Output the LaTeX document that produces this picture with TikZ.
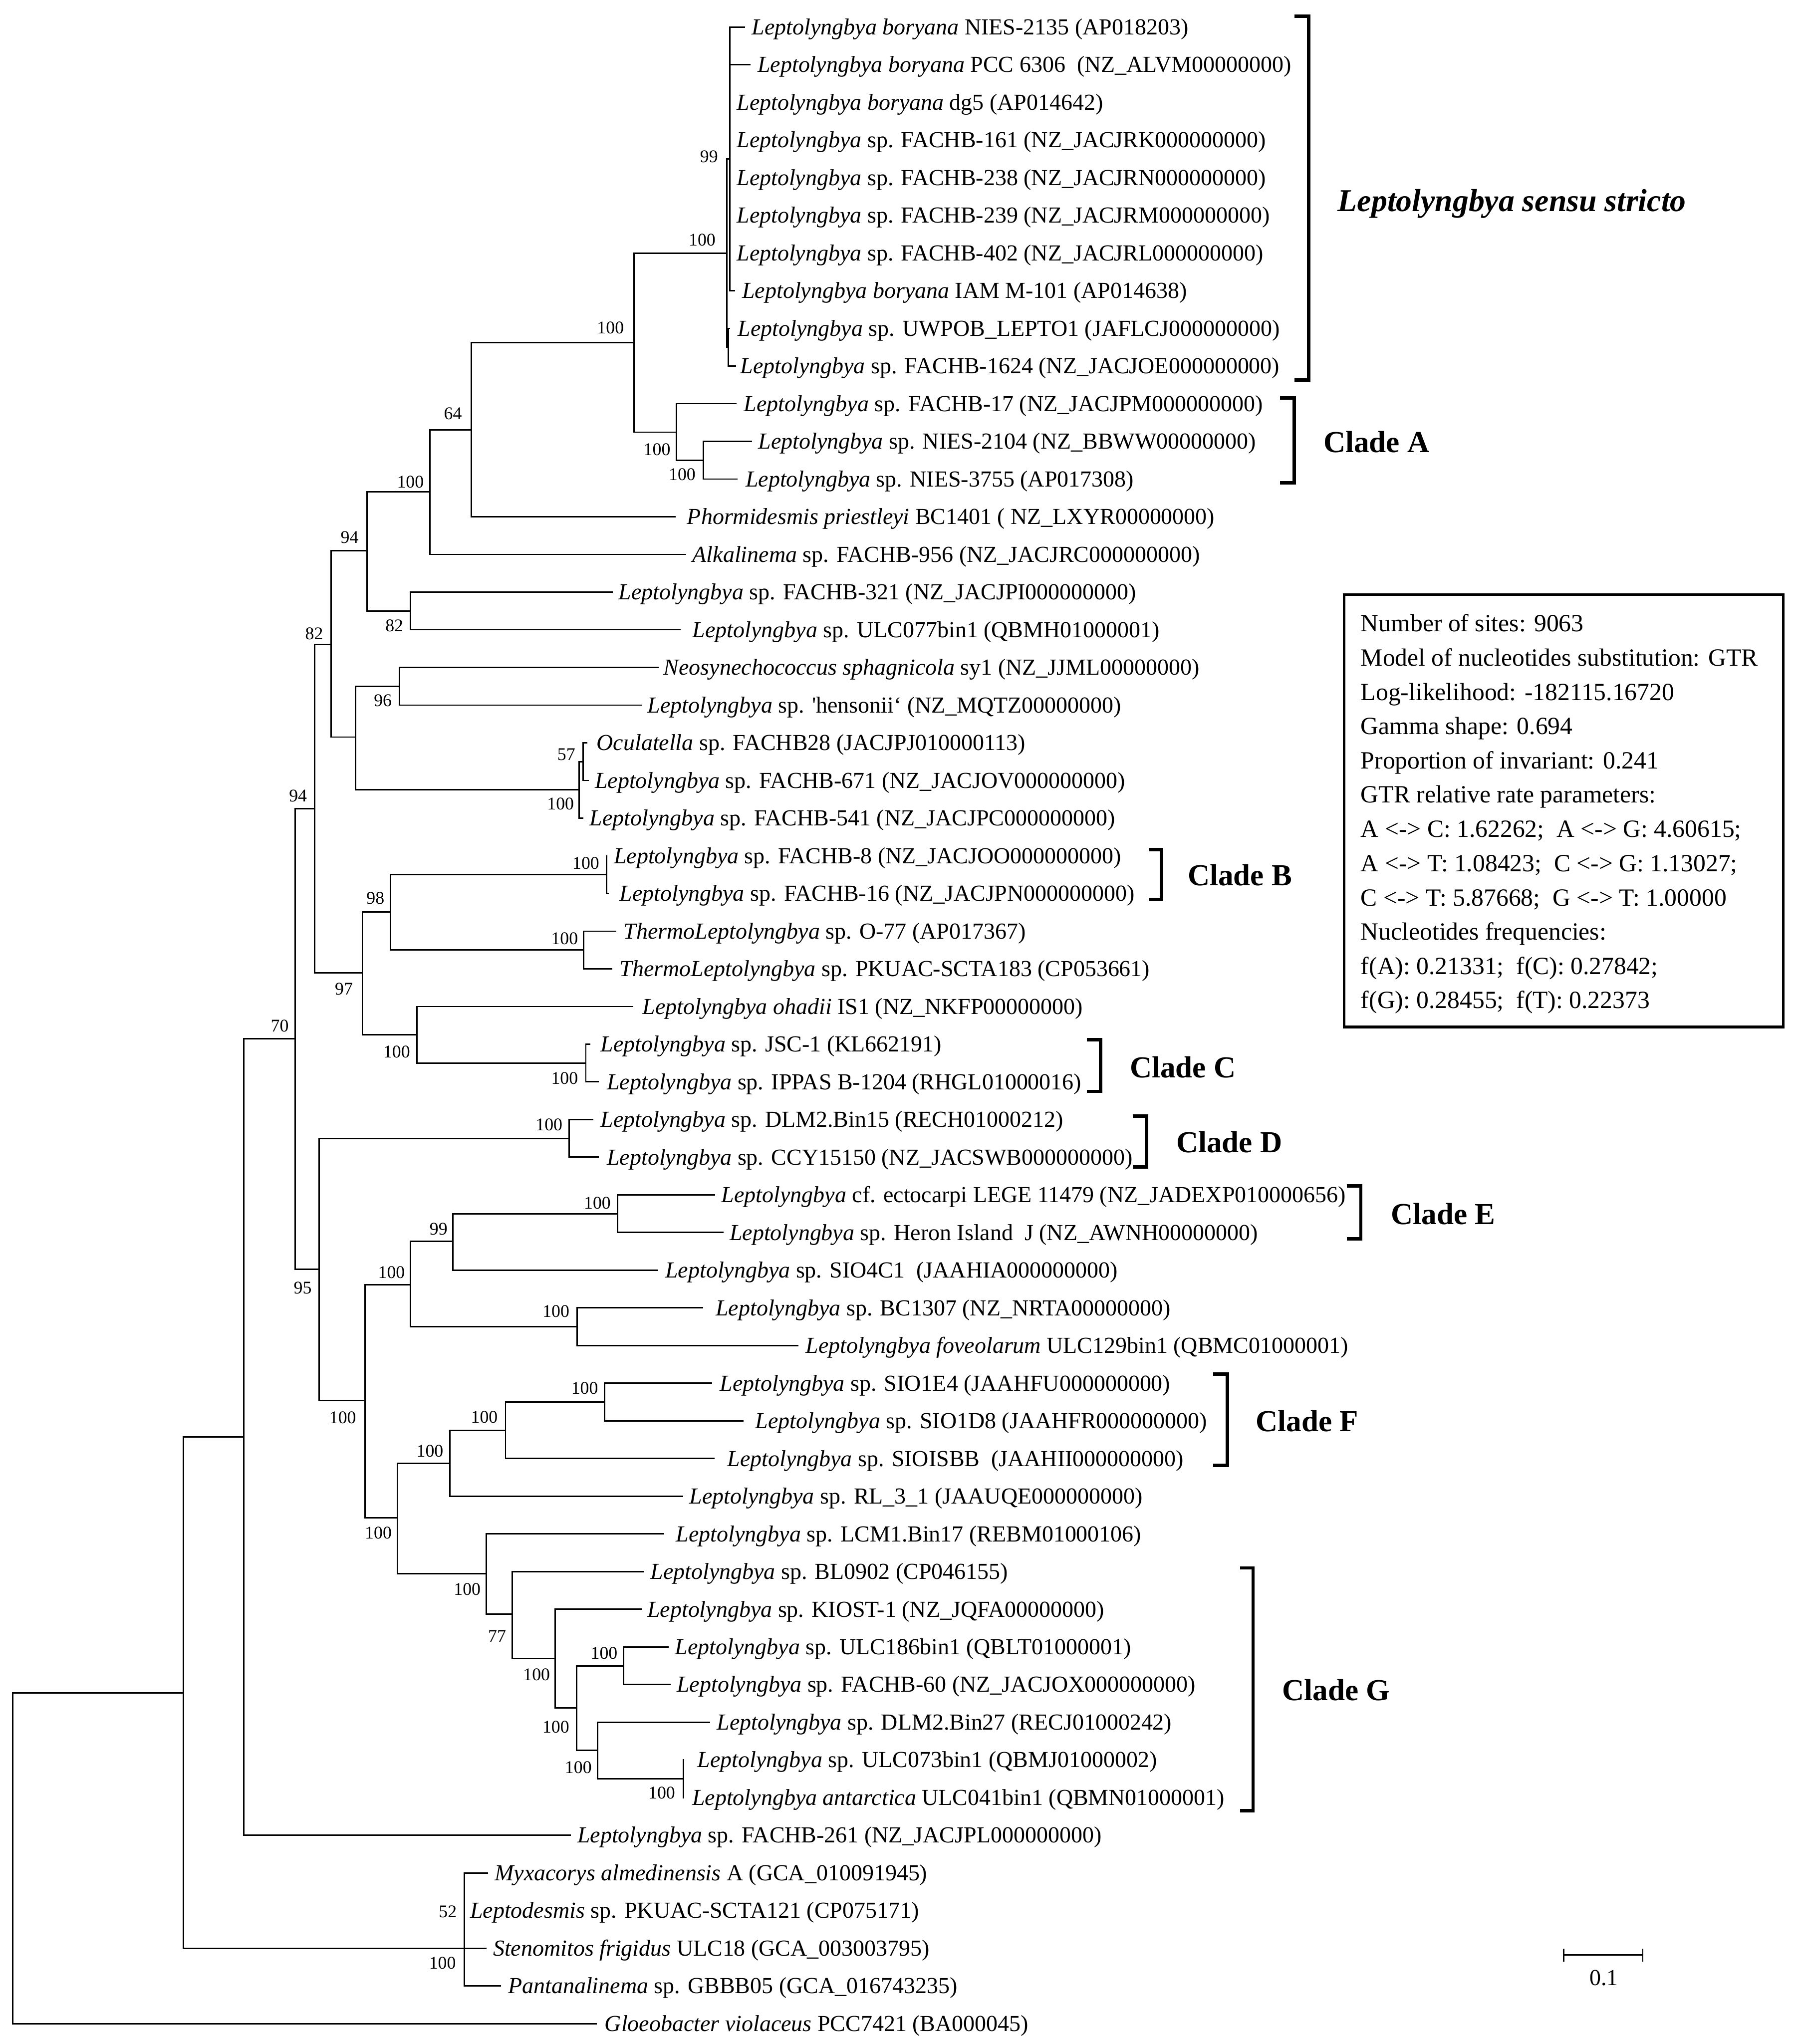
\documentclass[tikz,border=0pt]{standalone}
\usepackage{fontspec}
\setmainfont{Liberation Serif}[Ligatures=TeXOff]
\newcommand\mytip[3]{\coordinate (t#1) at (#2,#3);}
\newcommand\myleaf[4]{\node[leaf] (l#1) at (#2,#3) {#4};}
\newcommand\myboot[4]{\node[boot] (b#1) at (#2,#3) {#4};}
\newcommand\myedges[2]{\foreach \c in {#2} {\draw[br] (#1) |- (\c);}}
\begin{document}
\begin{tikzpicture}[x=0.5pt,y=-0.5pt,
  br/.style={line width=0.55pt},
  leaf/.style={anchor=base west, inner sep=0pt, yshift=-2.9pt, font=\fontsize{8.8}{10.5}\selectfont},
  boot/.style={anchor=center, inner sep=0pt, font=\fontsize{6.85}{8}\selectfont},
  brk/.style={line width=1.3pt},
  cladelab/.style={anchor=west, inner sep=0pt, font=\fontsize{11.7}{14}\selectfont\bfseries},
  boxtxt/.style={anchor=base west, inner sep=0pt, yshift=-3.25pt, font=\fontsize{9.5}{11}\selectfont}]
\useasboundingbox (0,0) rectangle (1379,1568);
\fill[white] (0,0) rectangle (1379,1568);
% ---------- internal nodes ----------
\coordinate (R) at (9.7,1425);
\coordinate (I1) at (140.7,1298.8);
\coordinate (I2) at (186.9,1102.2);
\coordinate (OG) at (356.2,1494.6);
\coordinate (I3) at (226.4,796.9);
\coordinate (I4) at (241.4,620.5);
\coordinate (I5) at (244.9,973.6);
\coordinate (I6) at (254.1,494.4);
\coordinate (I7) at (277.9,746.3);
\coordinate (I8) at (281.4,422.3);
\coordinate (I9) at (272.6,565.4);
\coordinate (I10) at (329.8,377.3);
\coordinate (I11) at (314.8,468.65);
\coordinate (I12) at (361.4,329.8);
\coordinate (I13) at (486.3,262.7);
\coordinate (S) at (557.4,194.2);
\coordinate (Y) at (559.8,121.8);
\coordinate (Z) at (558.6,266.3);
\coordinate (CA) at (518.8,331.5);
\coordinate (CA2) at (539.5,353.05);
\coordinate (I14) at (306.5,526.45);
\coordinate (I15) at (444.1,605.9);
\coordinate (I16) at (447.2,584.25);
\coordinate (I17) at (299.4,699.5);
\coordinate (CB) at (465.2,670.95);
\coordinate (TH) at (447.6,728.75);
\coordinate (I18) at (319.7,793.6);
\coordinate (CC) at (449.4,815.45);
\coordinate (CD) at (436.6,873.25);
\coordinate (I19) at (280.1,1074.2);
\coordinate (I20) at (314.8,985.4);
\coordinate (I22) at (347.4,952.3);
\coordinate (CE) at (473.6,931.05);
\coordinate (I23) at (442.8,1017.75);
\coordinate (I21) at (304.7,1164.2);
\coordinate (I24) at (345.2,1122.5);
\coordinate (I26) at (387.8,1097.2);
\coordinate (CF) at (463.9,1075.55);
\coordinate (I25) at (372.9,1207.2);
\coordinate (I27) at (392.8,1238.3);
\coordinate (I28) at (425.9,1272.2);
\coordinate (I29) at (442.5,1310.3);
\coordinate (I30) at (478.4,1277.85);
\coordinate (I31) at (458.4,1342.8);
\coordinate (I32) at (524.1,1364.55);
% ---------- tips ----------
\mytip{1}{571.6}{20.7}
\mytip{2}{575.8}{49.6}
\mytip{3}{559.8}{78.5}
\mytip{4}{559.8}{107.4}
\mytip{5}{559.8}{136.3}
\mytip{6}{559.8}{165.2}
\mytip{7}{559.8}{194.1}
\mytip{8}{563.8}{223.0}
\mytip{9}{560.0}{251.9}
\mytip{10}{564.8}{280.8}
\mytip{11}{565.0}{309.7}
\mytip{12}{576.9}{338.6}
\mytip{13}{565.9}{367.5}
\mytip{14}{518.2}{396.4}
\mytip{15}{526.4}{425.3}
\mytip{16}{470.1}{454.2}
\mytip{17}{522.1}{483.1}
\mytip{18}{505.4}{512.0}
\mytip{19}{492.3}{540.9}
\mytip{20}{450.7}{569.8}
\mytip{21}{451.6}{598.7}
\mytip{22}{447.6}{627.6}
\mytip{23}{466.0}{656.5}
\mytip{24}{467.0}{685.4}
\mytip{25}{472.7}{714.3}
\mytip{26}{469.6}{743.2}
\mytip{27}{485.9}{772.1}
\mytip{28}{452.9}{801.0}
\mytip{29}{459.5}{829.9}
\mytip{30}{455.1}{858.8}
\mytip{31}{459.5}{887.7}
\mytip{32}{548.7}{916.6}
\mytip{33}{554.9}{945.5}
\mytip{34}{504.8}{974.4}
\mytip{35}{539.5}{1003.3}
\mytip{36}{612.5}{1032.2}
\mytip{37}{546.1}{1061.1}
\mytip{38}{570.3}{1090.0}
\mytip{39}{548.3}{1118.9}
\mytip{40}{524.1}{1147.8}
\mytip{41}{509.6}{1176.7}
\mytip{42}{494.2}{1205.6}
\mytip{43}{492.1}{1234.5}
\mytip{44}{512.9}{1263.4}
\mytip{45}{514.5}{1292.3}
\mytip{46}{544.6}{1321.2}
\mytip{47}{524.9}{1350.1}
\mytip{48}{524.9}{1379.0}
\mytip{49}{438.1}{1407.9}
\mytip{50}{374.3}{1436.8}
\mytip{51}{356.2}{1465.7}
\mytip{52}{373.4}{1494.6}
\mytip{53}{384.3}{1523.5}
\mytip{54}{458.0}{1552.4}
% ---------- branches ----------
\myedges{R}{I1,t54}
\myedges{I1}{I2,OG}
\myedges{OG}{t50,t51,t52,t53}
\myedges{I2}{I3,t49}
\myedges{I3}{I4,I5}
\myedges{I4}{I6,I7}
\myedges{I6}{I8,I9}
\myedges{I8}{I10,I11}
\myedges{I10}{I12,t15}
\myedges{I12}{I13,t14}
\myedges{I13}{S,CA}
\myedges{S}{Y,Z}
\myedges{Y}{t1,t2,t3,t4,t5,t6,t7,t8}
\myedges{Z}{t9,t10}
\myedges{CA}{t11,CA2}
\myedges{CA2}{t12,t13}
\myedges{I11}{t16,t17}
\myedges{I9}{I14,I15}
\myedges{I14}{t18,t19}
\myedges{I15}{I16,t22}
\myedges{I16}{t20,t21}
\myedges{I7}{I17,I18}
\myedges{I17}{CB,TH}
\myedges{CB}{t23,t24}
\myedges{TH}{t25,t26}
\myedges{I18}{t27,CC}
\myedges{CC}{t28,t29}
\myedges{I5}{CD,I19}
\myedges{CD}{t30,t31}
\myedges{I19}{I20,I21}
\myedges{I20}{I22,I23}
\myedges{I22}{CE,t34}
\myedges{CE}{t32,t33}
\myedges{I23}{t35,t36}
\myedges{I21}{I24,I25}
\myedges{I24}{I26,t40}
\myedges{I26}{CF,t39}
\myedges{CF}{t37,t38}
\myedges{I25}{t41,I27}
\myedges{I27}{t42,I28}
\myedges{I28}{t43,I29}
\myedges{I29}{I30,I31}
\myedges{I30}{t44,t45}
\myedges{I31}{t46,I32}
\myedges{I32}{t47,t48}
% ---------- leaf labels ----------
\myleaf{1}{576.4}{20.7}{\textit{Leptolyngbya boryana} NIES-2135 (AP018203)}
\myleaf{2}{580.8}{49.6}{\textit{Leptolyngbya boryana} PCC 6306\ \ (NZ\_ALVM00000000)}
\myleaf{3}{564.8}{78.5}{\textit{Leptolyngbya boryana} dg5 (AP014642)}
\myleaf{4}{564.8}{107.4}{\textit{Leptolyngbya} sp. FACHB-161 (NZ\_JACJRK000000000)}
\myleaf{5}{564.8}{136.3}{\textit{Leptolyngbya} sp. FACHB-238 (NZ\_JACJRN000000000)}
\myleaf{6}{564.8}{165.2}{\textit{Leptolyngbya} sp. FACHB-239 (NZ\_JACJRM000000000)}
\myleaf{7}{564.8}{194.1}{\textit{Leptolyngbya} sp. FACHB-402 (NZ\_JACJRL000000000)}
\myleaf{8}{569.0}{223.0}{\textit{Leptolyngbya boryana} IAM M-101 (AP014638)}
\myleaf{9}{565.7}{251.9}{\textit{Leptolyngbya} sp. UWPOB\_LEPTO1 (JAFLCJ000000000)}
\myleaf{10}{567.5}{280.8}{\textit{Leptolyngbya} sp. FACHB-1624 (NZ\_JACJOE000000000)}
\myleaf{11}{570.3}{309.7}{\textit{Leptolyngbya} sp. FACHB-17 (NZ\_JACJPM000000000)}
\myleaf{12}{581.3}{338.6}{\textit{Leptolyngbya} sp. NIES-2104 (NZ\_BBWW00000000)}
\myleaf{13}{571.6}{367.5}{\textit{Leptolyngbya} sp. NIES-3755 (AP017308)}
\myleaf{14}{526.7}{396.4}{\textit{Phormidesmis priestleyi} BC1401 (\ NZ\_LXYR00000000)}
\myleaf{15}{530.9}{425.3}{\textit{Alkalinema} sp. FACHB-956 (NZ\_JACJRC000000000)}
\myleaf{16}{474.2}{454.2}{\textit{Leptolyngbya} sp. FACHB-321 (NZ\_JACJPI000000000)}
\myleaf{17}{530.9}{483.1}{\textit{Leptolyngbya} sp. ULC077bin1 (QBMH01000001)}
\myleaf{18}{508.7}{512.0}{\textit{Neosynechococcus sphagnicola} sy1 (NZ\_JJML00000000)}
\myleaf{19}{496.4}{540.9}{\textit{Leptolyngbya} sp. 'hensonii‘ (NZ\_MQTZ00000000)}
\myleaf{20}{457.3}{569.8}{\textit{Oculatella} sp. FACHB28 (JACJPJ010000113)}
\myleaf{21}{456.0}{598.7}{\textit{Leptolyngbya} sp. FACHB-671 (NZ\_JACJOV000000000)}
\myleaf{22}{452.0}{627.6}{\textit{Leptolyngbya} sp. FACHB-541 (NZ\_JACJPC000000000)}
\myleaf{23}{470.5}{656.5}{\textit{Leptolyngbya} sp. FACHB-8 (NZ\_JACJOO000000000)}
\myleaf{24}{474.9}{685.4}{\textit{Leptolyngbya} sp. FACHB-16 (NZ\_JACJPN000000000)}
\myleaf{25}{478.0}{714.3}{\textit{ThermoLeptolyngbya} sp. O-77 (AP017367)}
\myleaf{26}{474.9}{743.2}{\textit{ThermoLeptolyngbya} sp. PKUAC-SCTA183 (CP053661)}
\myleaf{27}{492.5}{772.1}{\textit{Leptolyngbya ohadii} IS1 (NZ\_NKFP00000000)}
\myleaf{28}{460.4}{801.0}{\textit{Leptolyngbya} sp. JSC-1 (KL662191)}
\myleaf{29}{465.2}{829.9}{\textit{Leptolyngbya} sp. IPPAS B-1204 (RHGL01000016)}
\myleaf{30}{460.4}{858.8}{\textit{Leptolyngbya} sp. DLM2.Bin15 (RECH01000212)}
\myleaf{31}{465.2}{887.7}{\textit{Leptolyngbya} sp. CCY15150 (NZ\_JACSWB000000000)}
\myleaf{32}{553.1}{916.6}{\textit{Leptolyngbya} cf. ectocarpi LEGE 11479 (NZ\_JADEXP010000656)}
\myleaf{33}{559.3}{945.5}{\textit{Leptolyngbya} sp. Heron Island\ \ J (NZ\_AWNH00000000)}
\myleaf{34}{510.0}{974.4}{\textit{Leptolyngbya} sp. SIO4C1\ \ (JAAHIA000000000)}
\myleaf{35}{548.7}{1003.3}{\textit{Leptolyngbya} sp. BC1307 (NZ\_NRTA00000000)}
\myleaf{36}{617.8}{1032.2}{\textit{Leptolyngbya foveolarum} ULC129bin1 (QBMC01000001)}
\myleaf{37}{551.8}{1061.1}{\textit{Leptolyngbya} sp. SIO1E4 (JAAHFU000000000)}
\myleaf{38}{579.1}{1090.0}{\textit{Leptolyngbya} sp. SIO1D8 (JAAHFR000000000)}
\myleaf{39}{557.6}{1118.9}{\textit{Leptolyngbya} sp. SIOISBB\ \ (JAAHII000000000)}
\myleaf{40}{528.5}{1147.8}{\textit{Leptolyngbya} sp. RL\_3\_1 (JAAUQE000000000)}
\myleaf{41}{518.3}{1176.7}{\textit{Leptolyngbya} sp. LCM1.Bin17 (REBM01000106)}
\myleaf{42}{498.6}{1205.6}{\textit{Leptolyngbya} sp. BL0902 (CP046155)}
\myleaf{43}{496.2}{1234.5}{\textit{Leptolyngbya} sp. KIOST-1 (NZ\_JQFA00000000)}
\myleaf{44}{517.5}{1263.4}{\textit{Leptolyngbya} sp. ULC186bin1 (QBLT01000001)}
\myleaf{45}{518.8}{1292.3}{\textit{Leptolyngbya} sp. FACHB-60 (NZ\_JACJOX000000000)}
\myleaf{46}{549.5}{1321.2}{\textit{Leptolyngbya} sp. DLM2.Bin27 (RECJ01000242)}
\myleaf{47}{534.7}{1350.1}{\textit{Leptolyngbya} sp. ULC073bin1 (QBMJ01000002)}
\myleaf{48}{530.6}{1379.0}{\textit{Leptolyngbya antarctica} ULC041bin1 (QBMN01000001)}
\myleaf{49}{442.6}{1407.9}{\textit{Leptolyngbya} sp. FACHB-261 (NZ\_JACJPL000000000)}
\myleaf{50}{379.1}{1436.8}{\textit{Myxacorys almedinensis} A (GCA\_010091945)}
\myleaf{51}{360.3}{1465.7}{\textit{Leptodesmis} sp. PKUAC-SCTA121 (CP075171)}
\myleaf{52}{377.9}{1494.6}{\textit{Stenomitos frigidus} ULC18 (GCA\_003003795)}
\myleaf{53}{389.4}{1523.5}{\textit{Pantanalinema} sp. GBBB05 (GCA\_016743235)}
\myleaf{54}{463.5}{1552.4}{\textit{Gloeobacter violaceus} PCC7421 (BA000045)}
% ---------- bootstrap values ----------
\myboot{Y}{543.9}{120.0}{99}
\myboot{S}{538.6}{183.9}{100}
\myboot{I13}{468.3}{251.4}{100}
\myboot{I12}{347.4}{317.3}{64}
\myboot{CA}{504.0}{344.7}{100}
\myboot{CA2}{523.3}{364.0}{100}
\myboot{I10}{314.8}{369.8}{100}
\myboot{I8}{268.2}{412.3}{94}
\myboot{I11}{302.5}{479.9}{82}
\myboot{I6}{241.0}{486.1}{82}
\myboot{I14}{293.7}{537.4}{96}
\myboot{I16}{434.4}{578.7}{57}
\myboot{I15}{430.0}{616.7}{100}
\myboot{I4}{228.6}{610.5}{94}
\myboot{CB}{449.4}{662.0}{100}
\myboot{I17}{288.0}{688.8}{98}
\myboot{TH}{433.1}{720.0}{100}
\myboot{I7}{263.8}{758.8}{97}
\myboot{I3}{214.6}{787.0}{70}
\myboot{I18}{304.3}{806.7}{100}
\myboot{CC}{433.1}{827.2}{100}
\myboot{CD}{421.2}{862.8}{100}
\myboot{CE}{458.2}{922.8}{100}
\myboot{I22}{336.4}{942.8}{99}
\myboot{I20}{300.3}{976.1}{100}
\myboot{I5}{232.2}{987.9}{95}
\myboot{I23}{426.5}{1006.1}{100}
\myboot{CF}{448.5}{1064.9}{100}
\myboot{I26}{371.5}{1087.0}{100}
\myboot{I19}{262.9}{1087.4}{100}
\myboot{I24}{329.8}{1113.0}{100}
\myboot{I21}{290.2}{1176.0}{100}
\myboot{I25}{358.4}{1219.0}{100}
\myboot{I27}{381.3}{1255.0}{77}
\myboot{I28}{411.6}{1284.5}{100}
\myboot{I30}{463.4}{1268.1}{100}
\myboot{I29}{426.4}{1324.7}{100}
\myboot{I31}{443.6}{1355.9}{100}
\myboot{I32}{507.6}{1375.5}{100}
\myboot{OGa}{343.5}{1466.5}{52}
\myboot{OGb}{339.4}{1505.9}{100}
% ---------- clade brackets ----------
\draw[brk] (992.9,12.5) -- (1003.9,12.5) -- (1003.9,291.5) -- (992.9,291.5);
\node[anchor=base west, inner sep=0pt, yshift=-4.15pt, font=\fontsize{12.2}{14}\selectfont\bfseries\itshape] (cSS) at (1025.9,153.9) {Leptolyngbya sensu stricto};
\draw[brk] (981.9,305.2) -- (992.9,305.2) -- (992.9,370.3) -- (981.9,370.3);
\node[cladelab] (cA) at (1014.9,339.0) {Clade A};
\draw[brk] (881.2,651.7) -- (890.9,651.7) -- (890.9,690.0) -- (881.2,690.0);
\node[cladelab] (cB) at (910.7,671.3) {Clade B};
\draw[brk] (833.7,797.7) -- (844.3,797.7) -- (844.3,837.2) -- (833.7,837.2);
\node[cladelab] (cC) at (866.3,818.5) {Clade C};
\draw[brk] (868.9,856.0) -- (879.5,856.0) -- (879.5,895.3) -- (868.9,895.3);
\node[cladelab] (cD) at (901.9,876.0) {Clade D};
\draw[brk] (1033.3,909.8) -- (1043.9,909.8) -- (1043.9,950.3) -- (1033.3,950.3);
\node[cladelab] (cE) at (1066.8,931.1) {Clade E};
\draw[brk] (930.5,1054.2) -- (941.5,1054.2) -- (941.5,1124.2) -- (930.5,1124.2);
\node[cladelab] (cF) at (963.0,1090.0) {Clade F};
\draw[brk] (951.1,1202.8) -- (961.2,1202.8) -- (961.2,1388.9) -- (951.1,1388.9);
\node[cladelab] (cG) at (983.2,1296.6) {Clade G};
% ---------- parameter box ----------
\draw[line width=1.1pt] (1031.1,456.1) rectangle (1368.0,787.7);
\node[boxtxt] (p1) at (1043.5,478.1) {Number of sites: 9063};
\node[boxtxt] (p2) at (1043.5,504.4) {Model of nucleotides substitution: GTR};
\node[boxtxt] (p3) at (1043.5,530.6) {Log-likelihood: -182115.16720};
\node[boxtxt] (p4) at (1043.5,556.9) {Gamma shape: 0.694};
\node[boxtxt] (p5) at (1043.5,583.2) {Proportion of invariant: 0.241};
\node[boxtxt] (p6) at (1043.5,609.4) {GTR relative rate parameters:};
\node[boxtxt] (p7) at (1043.5,635.7) {A <-> C: 1.62262;\ \ A <-> G: 4.60615;};
\node[boxtxt] (p8) at (1043.5,662.0) {A <-> T: 1.08423;\ \ C <-> G: 1.13027;};
\node[boxtxt] (p9) at (1043.5,688.3) {C <-> T: 5.87668;\ \ G <-> T: 1.00000};
\node[boxtxt] (p10) at (1043.5,714.5) {Nucleotides frequencies:};
\node[boxtxt] (p11) at (1043.5,740.8) {f(A): 0.21331;\ \ f(C): 0.27842;};
\node[boxtxt] (p12) at (1043.5,767.1) {f(G): 0.28455;\ \ f(T): 0.22373};
% ---------- scale bar ----------
\coordinate (sb1) at (1199.5,1499.7);
\coordinate (sb2) at (1260.2,1499.7);
\draw[br] (sb1) -- (sb2);
\draw[br] ([yshift=2.5pt]sb1) -- ([yshift=-2.5pt]sb1);
\draw[br] ([yshift=2.5pt]sb2) -- ([yshift=-2.5pt]sb2);
\node[anchor=center, inner sep=0pt, font=\fontsize{8.8}{10.5}\selectfont] (sbl) at (1230.3,1517.3) {0.1};
\end{tikzpicture}
\end{document}
